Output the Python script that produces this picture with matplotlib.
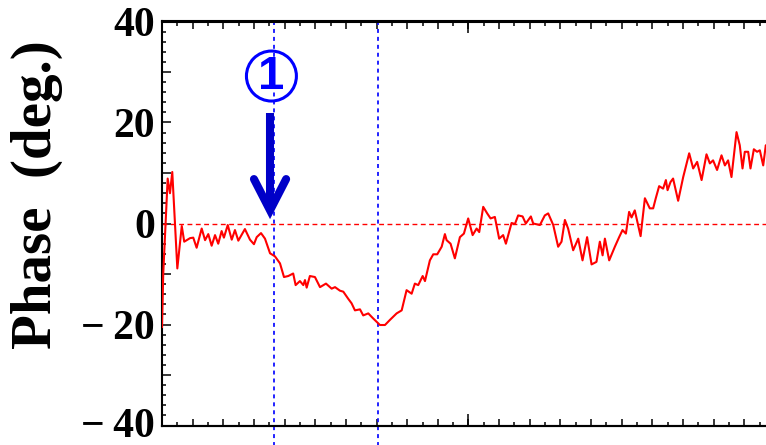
import numpy as np
import matplotlib.pyplot as plt
import matplotlib.transforms as mtransforms
from matplotlib.patches import Ellipse
from matplotlib.ticker import MultipleLocator

# 数据
t = [0.0, 0.08, 0.37, 0.52, 0.67, 1.00, 1.29, 1.45, 1.83, 2.04,
     2.26, 2.59, 2.81, 3.02, 3.24, 3.46, 3.67, 3.89, 4.04, 4.29,
     4.55, 4.76, 4.98, 5.41, 5.74, 6.00, 6.18, 6.46, 6.72, 7.05,
     7.37, 7.70, 7.96, 8.24, 8.56, 8.72, 9.00, 9.22, 9.33, 9.44,
     9.65, 9.98, 10.31, 10.70, 11.07, 11.29, 11.61, 11.83, 12.15, 12.37,
     12.59, 12.92, 13.13, 13.46, 13.78, 14.22, 14.55, 14.87, 15.31, 15.64,
     15.96, 16.29, 16.50, 16.72, 17.01, 17.16, 17.48, 17.70, 17.96, 18.25,
     18.46, 18.57, 18.83, 19.11, 19.44, 19.70, 19.98, 20.27, 20.53, 20.70,
     20.96, 21.22, 21.44, 21.72, 22.00, 22.26, 22.44, 22.81, 23.03, 23.24,
     23.53, 23.74, 24.07, 24.22, 24.66, 24.98, 25.20, 25.53, 25.85, 26.07,
     26.29, 26.50, 26.83, 27.16, 27.44, 27.74, 28.03, 28.35, 28.57, 28.75,
     28.90, 29.18, 29.55, 29.83, 30.05, 30.27, 30.48, 30.64, 30.85, 31.23,
     31.51, 31.83, 32.05, 32.22, 32.44, 32.70, 32.88, 32.99, 33.18, 33.35,
     33.68, 34.01, 34.23, 34.40, 34.66, 34.92, 35.21, 35.53, 35.75, 35.96,
     36.22, 36.51, 36.73, 36.94, 37.16, 37.49, 37.70, 37.88, 38.03, 38.25,
     38.40, 38.62, 38.83, 39.01, 39.23, 39.40, 39.70, 40.0]
phase = [-20.5, -10.0, 8.9, 6.0, 10.2, -8.9, -0.5, -3.6, -2.9, -2.8,
         -4.8, -1.0, -3.3, -2.1, -4.4, -2.3, -4.0, -1.5, -2.8, -0.3,
         -3.2, -1.3, -3.4, -1.1, -3.2, -4.1, -2.7, -1.9, -3.0, -5.9,
         -6.5, -7.9, -10.6, -10.4, -9.9, -12.2, -11.4, -12.2, -11.2, -12.7,
         -10.4, -10.6, -12.6, -11.9, -12.9, -12.6, -13.3, -13.5, -14.9, -15.8,
         -17.2, -17.0, -18.2, -17.8, -18.8, -20.1, -20.1, -19.1, -17.8, -17.2,
         -13.2, -13.9, -11.9, -12.2, -10.4, -11.4, -7.3, -6.1, -6.1, -4.6,
         -2.1, -3.3, -4.0, -6.9, -2.7, -2.0, 1.0, -2.3, -1.0, -1.7,
         3.3, 2.0, 1.0, 1.3, -3.0, -2.3, -4.0, 0.1, -0.1, 1.6,
         1.4, 0.0, 1.4, 0.0, -0.3, 1.6, 2.0, -0.3, -4.6, -3.6,
         0.7, -1.0, -5.3, -3.0, -7.3, -2.7, -8.1, -7.6, -3.6, -6.3,
         -3.0, -7.3, -4.6, -2.7, -1.3, -2.0, 2.3, 1.2, 2.6, -2.5,
         5.0, 3.0, 3.0, 5.0, 7.4, 6.9, 8.6, 6.6, 8.2, 8.9,
         4.5, 9.2, 11.9, 13.9, 10.9, 12.2, 8.6, 13.7, 11.9, 12.5,
         10.6, 13.5, 11.5, 12.5, 9.2, 18.1, 15.5, 10.9, 14.2, 14.2,
         10.9, 14.7, 14.2, 14.5, 11.5, 15.5, 13.0, 14.0]
event_t = [7.31, 14.12]
yticks = [-40, -20, 0, 20, 40]


def fmt_tick(v):
    v = int(v)
    if v < 0:
        return '\u2212\u2009' + str(-v)
    return str(v)


plt.rcParams['font.family'] = ['Liberation Serif', 'DejaVu Serif']

fig = plt.figure(figsize=(7.66, 4.45), dpi=100)
ax = fig.add_axes([162 / 766, 19.5 / 445, 613 / 766, 404 / 445])

ax.plot(t, phase, color='red', lw=1.5, zorder=3)
ax.axhline(0, color='red', lw=1.0, dashes=(3.5, 2.5), zorder=2)
for xv in event_t:
    ax.plot([xv, xv], [40, -45], color='#1010ff', lw=1.3, dashes=(2.2, 2.2),
            clip_on=False, zorder=2)

ax.set_xlim(0, 40)
ax.set_ylim(-40, 40)

# 坐标轴刻度
ax.xaxis.set_major_locator(MultipleLocator(2))
ax.xaxis.set_minor_locator(MultipleLocator(1))
ax.yaxis.set_minor_locator(MultipleLocator(2))
ytick_pos = np.arange(-40, 41, 10)
ax.set_yticks(ytick_pos)
ax.set_yticklabels([fmt_tick(v) if v in yticks else '' for v in ytick_pos])
ax.tick_params(axis='both', which='both', direction='in', top=True, right=True,
               width=1.1, labelbottom=False)
ax.tick_params(axis='x', which='major', length=5)
ax.tick_params(axis='x', which='minor', length=3)
ax.tick_params(axis='y', which='major', length=6.5, pad=5)
ax.tick_params(axis='y', which='minor', length=3)
for lab in ax.get_yticklabels():
    lab.set_fontsize(30)
    lab.set_fontweight('bold')
# 最下面的标签稍微上移, 免得被裁掉
bottom_lab = ax.get_yticklabels()[0]
bottom_lab.set_transform(bottom_lab.get_transform() +
                         mtransforms.ScaledTranslation(0, 3 / 100, fig.dpi_scale_trans))
for sp in ax.spines.values():
    sp.set_linewidth(1.5)

for side in ['bottom', 'top']:
    sec = ax.secondary_xaxis(side)
    sec.set_xticks([0, 20, 40])
    sec.tick_params(direction='in', length=8.6, width=1.1,
                    labelbottom=False, labeltop=False)
    sec.spines[side].set_linewidth(1.5)

fig.text(37 / 766, 1 - 195 / 445, 'Phase  (deg.)', rotation=90, ha='center',
         va='center', fontsize=41, fontweight='bold')

# 标注 ①
circ = Ellipse((7.14, 29.2), 3.26, 9.9, fill=False, ec='#0000ff', lw=2.2,
               zorder=5)
ax.add_patch(circ)
ax.text(7.14, 29.0, '1', color='#0000ff', fontsize=34, fontweight='bold',
        family=['Liberation Sans', 'DejaVu Sans'], ha='center', va='center',
        zorder=5)
arrow_c = '#0000c8'
ax.plot([7.05, 7.05], [21.8, 3.0], color=arrow_c, lw=5.8, solid_capstyle='butt',
        zorder=5)
ax.plot([7.05 - 1.05, 7.05, 7.05 + 1.05], [8.8, 2.6, 8.8], color=arrow_c, lw=5.8,
        solid_capstyle='round', solid_joinstyle='miter', zorder=5)

fig.savefig('out.png', dpi=100)
